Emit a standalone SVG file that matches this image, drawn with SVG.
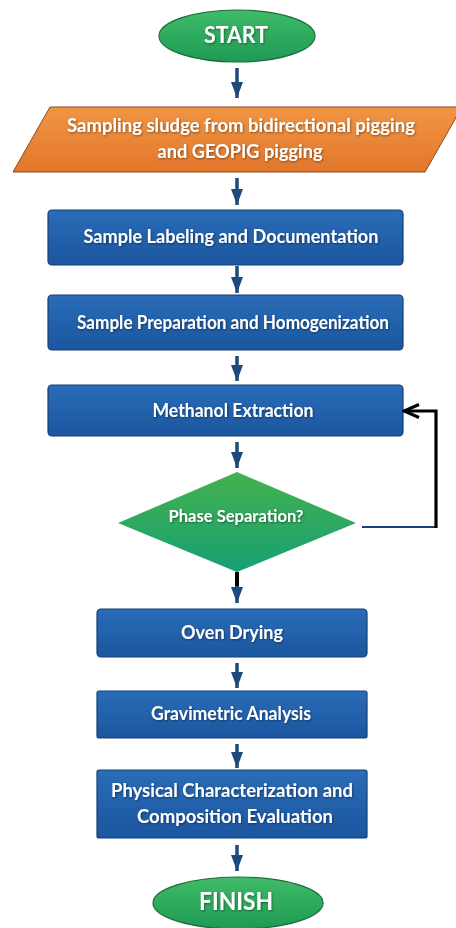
<svg xmlns="http://www.w3.org/2000/svg" width="456" height="928" viewBox="0 0 456 928">
<defs>
<linearGradient id="gGreen" x1="0" y1="0" x2="0" y2="1"><stop offset="0" stop-color="#3fbb68"/><stop offset="1" stop-color="#1e9a55"/></linearGradient>
<linearGradient id="gDiam" x1="0" y1="0" x2="0" y2="1"><stop offset="0" stop-color="#45b14e"/><stop offset="1" stop-color="#16a073"/></linearGradient>
<linearGradient id="gOrange" x1="0" y1="0" x2="0" y2="1"><stop offset="0" stop-color="#f19543"/><stop offset="1" stop-color="#e2772c"/></linearGradient>
<linearGradient id="gBlue" x1="0" y1="0" x2="0" y2="1"><stop offset="0" stop-color="#2a6cb6"/><stop offset="1" stop-color="#1b56a0"/></linearGradient>
<filter id="ts" x="-10%" y="-30%" width="120%" height="160%"><feDropShadow dx="0.8" dy="1" stdDeviation="0.8" flood-color="#000" flood-opacity="0.45"/></filter>
<marker id="ah" viewBox="0 0 16 12" refX="16" refY="6" markerWidth="16" markerHeight="12" markerUnits="userSpaceOnUse" orient="auto"><path d="M0,0 L16,6 L0,12 Z" fill="#1c4a7e"/></marker>
<marker id="ahBlack" viewBox="0 0 18 16" refX="16" refY="8" markerWidth="18" markerHeight="16" markerUnits="userSpaceOnUse" orient="auto"><path d="M1,1.5 L16,8 L1,14.5" fill="none" stroke="#000" stroke-width="3"/></marker>
</defs>
<style>
.t{font-family:Lato,"Open Sans","Liberation Sans",sans-serif;font-weight:bold;fill:#fff;text-anchor:middle;filter:url(#ts)}
.box{fill:url(#gBlue);stroke:#143f76;stroke-width:1.2}
.arr{stroke:#1c4a7e;stroke-width:3.5;fill:none;marker-end:url(#ah)}
</style>
<rect width="456" height="928" fill="#fff"/>
<g id="start">
<ellipse cx="237" cy="36" rx="78" ry="26" fill="url(#gGreen)" stroke="#1d6b3c" stroke-width="1.2"/>
<text class="t" x="236" y="43" font-size="22" textLength="64" lengthAdjust="spacingAndGlyphs">START</text>
</g>
<g id="sampling">
<polygon points="50,107 462,107 425,172 13,172" fill="url(#gOrange)" stroke="#8a4a1c" stroke-width="1"/>
<text class="t" x="241" y="132" font-size="18" textLength="348" lengthAdjust="spacingAndGlyphs">Sampling sludge from bidirectional pigging</text>
<text class="t" x="240" y="158" font-size="18" textLength="165" lengthAdjust="spacingAndGlyphs">and GEOPIG pigging</text>
</g>
<g id="labeling">
<rect class="box" x="48" y="210" width="355" height="55" rx="4"/>
<text class="t" x="231" y="243" font-size="18" textLength="295" lengthAdjust="spacingAndGlyphs">Sample Labeling and Documentation</text>
</g>
<g id="preparation">
<rect class="box" x="48" y="295" width="355" height="55" rx="4"/>
<text class="t" x="233" y="329" font-size="18" textLength="312" lengthAdjust="spacingAndGlyphs">Sample Preparation and Homogenization</text>
</g>
<g id="extraction">
<rect class="box" x="48" y="385" width="355" height="51" rx="4"/>
<text class="t" x="233" y="417" font-size="18" textLength="161" lengthAdjust="spacingAndGlyphs">Methanol Extraction</text>
</g>
<g id="decision">
<polygon points="237,472 356,523 237,572 118,523" fill="url(#gDiam)"/>
<text class="t" x="236" y="522" font-size="17" textLength="135" lengthAdjust="spacingAndGlyphs">Phase Separation?</text>
</g>
<g id="drying">
<rect class="box" x="97" y="609" width="270" height="48" rx="4"/>
<text class="t" x="232" y="639" font-size="18" textLength="102" lengthAdjust="spacingAndGlyphs">Oven Drying</text>
</g>
<g id="gravimetric">
<rect class="box" x="97" y="691" width="270" height="47" rx="2"/>
<text class="t" x="231" y="720" font-size="18" textLength="160" lengthAdjust="spacingAndGlyphs">Gravimetric Analysis</text>
</g>
<g id="characterization">
<rect class="box" x="97" y="770" width="270" height="68" rx="2"/>
<text class="t" x="232" y="797" font-size="18" textLength="242" lengthAdjust="spacingAndGlyphs">Physical Characterization and</text>
<text class="t" x="235" y="823" font-size="18" textLength="196" lengthAdjust="spacingAndGlyphs">Composition Evaluation</text>
</g>
<g id="finish">
<ellipse cx="238" cy="903" rx="85" ry="26" fill="url(#gGreen)" stroke="#1d6b3c" stroke-width="1.2"/>
<text class="t" x="236" y="910" font-size="24" textLength="74" lengthAdjust="spacingAndGlyphs">FINISH</text>
</g>
<g id="connectors">
<line class="arr" x1="237" y1="68" x2="237" y2="98"/>
<line class="arr" x1="237" y1="178" x2="237" y2="205"/>
<line class="arr" x1="237" y1="266" x2="237" y2="293"/>
<line class="arr" x1="237" y1="356" x2="237" y2="381"/>
<line class="arr" x1="237" y1="442" x2="237" y2="468"/>
<line x1="237" y1="572" x2="237" y2="587" stroke="#000" stroke-width="4"/>
<line class="arr" x1="237" y1="586" x2="237" y2="603"/>
<line class="arr" x1="237" y1="663" x2="237" y2="688"/>
<line class="arr" x1="237" y1="744" x2="237" y2="768"/>
<line class="arr" x1="237" y1="845" x2="237" y2="871"/>
<line x1="362" y1="527" x2="437" y2="527" stroke="#1c3f7a" stroke-width="2.2"/>
<path d="M436,528 L436,411 L404,411" fill="none" stroke="#000" stroke-width="3.2" marker-end="url(#ahBlack)"/>
</g>
</svg>
